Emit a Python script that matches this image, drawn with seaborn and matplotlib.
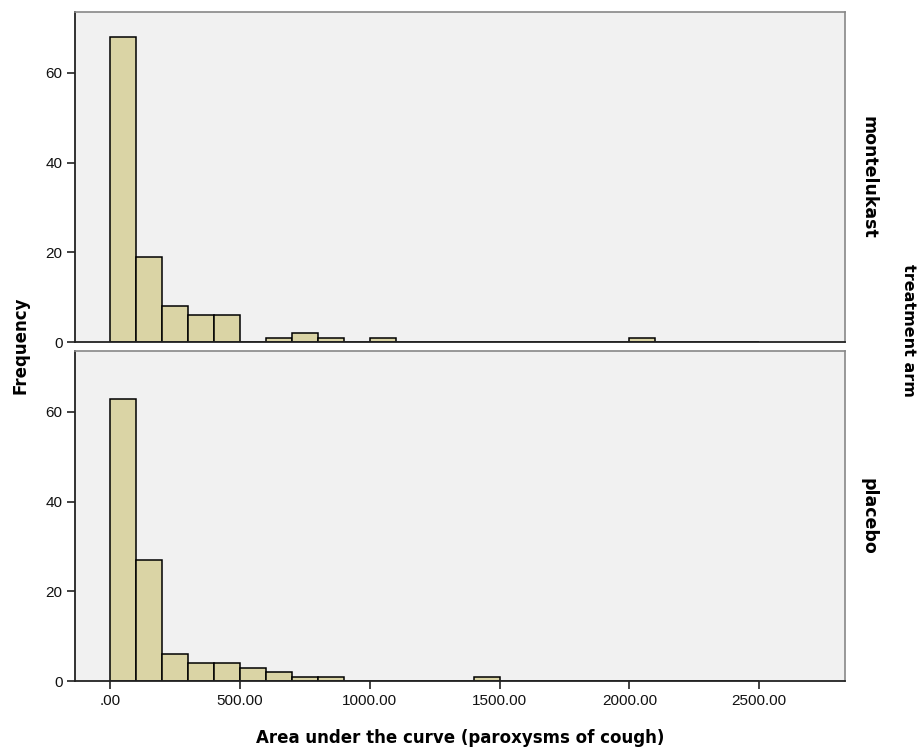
import numpy as np
import pandas as pd
import matplotlib
matplotlib.use("Agg")
import matplotlib.pyplot as plt
import seaborn as sns

# Histogram counts per 100-unit bin (left edges), by treatment arm
arms = ["montelukast", "placebo"]
montelukast_bins = [0, 100, 200, 300, 400, 600, 700, 800, 1000, 2000]
montelukast_counts = [68, 19, 8, 6, 6, 1, 2, 1, 1, 1]
placebo_bins = [0, 100, 200, 300, 400, 500, 600, 700, 800, 1400]
placebo_counts = [63, 27, 6, 4, 4, 3, 2, 1, 1, 1]
x_ticks = [0, 500, 1000, 1500, 2000, 2500]
x_tick_labels = [".00", "500.00", "1000.00", "1500.00", "2000.00", "2500.00"]
y_ticks = [0, 20, 40, 60]

df = pd.concat([
    pd.DataFrame({"arm": "montelukast", "auc": np.array(montelukast_bins) + 50,
                  "n": montelukast_counts}),
    pd.DataFrame({"arm": "placebo", "auc": np.array(placebo_bins) + 50,
                  "n": placebo_counts}),
], ignore_index=True)

sns.set_theme(style="white")
plt.rcParams["font.family"] = ["DejaVu Sans"]
plt.rcParams["text.color"] = "black"

fig = plt.figure(figsize=(9.21, 7.51), dpi=100)
fig.patch.set_facecolor("white")
left, width = 0.0814, 0.836
axes = [fig.add_axes([left, 0.5446, width, 0.4394]),
        fig.add_axes([left, 0.0932, width, 0.4394])]

tick_font = {"family": "Liberation Sans", "size": 11, "color": "#111111"}
bar_color = "#DAD4A5"
for ax, arm in zip(axes, arms):
    sub = df[df["arm"] == arm].reset_index(drop=True)
    sns.histplot(data=sub, x="auc", weights="n", binwidth=100,
                 binrange=(0, 2500), ax=ax,
                 color=bar_color, alpha=1.0, edgecolor="black", linewidth=1.1)
    ax.set_facecolor("#F1F1F1")
    ax.set_xlim(-135, 2830)
    ax.set_ylim(0, 73.6)
    ax.set_yticks(y_ticks)
    ax.set_yticklabels([str(v) for v in y_ticks], **tick_font)
    ax.set_xticks(x_ticks)
    ax.set_xlabel("")
    ax.set_ylabel("")
    ax.tick_params(axis="both", direction="out", length=6, width=1.2,
                   color="#222222", left=True, bottom=True, pad=3)
    for side in ["top", "right"]:
        ax.spines[side].set_color("#888888")
        ax.spines[side].set_linewidth(1.2)
    for side in ["left", "bottom"]:
        ax.spines[side].set_color("#222222")
        ax.spines[side].set_linewidth(1.3)
    ax.text(1.03, 0.5, arm, transform=ax.transAxes, rotation=-90,
            ha="center", va="center", fontsize=12.5, fontweight="bold",
            color="black")

axes[0].tick_params(axis="x", bottom=False, labelbottom=False)
axes[1].set_xticklabels(x_tick_labels, **tick_font)

fig.text(0.022, 0.54, "Frequency", rotation=90, ha="center", va="center",
         fontsize=12, fontweight="bold", color="black")
fig.text(0.986, 0.56, "treatment arm", rotation=-90, ha="center", va="center",
         fontsize=11.5, fontweight="bold", color="black")
fig.text(0.50, 0.017, "Area under the curve (paroxysms of cough)",
         ha="center", va="center", fontsize=12, fontweight="bold",
         color="black")

fig.savefig("out.png", dpi=100, facecolor="white")
